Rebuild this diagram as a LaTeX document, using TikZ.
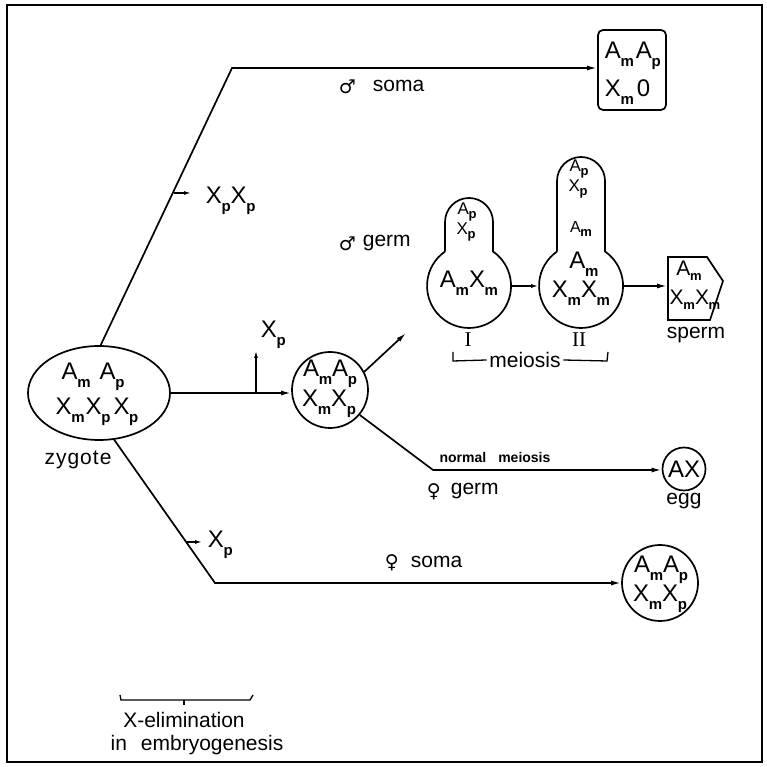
\documentclass[tikz,border=0pt]{standalone}
\usepackage{fontspec}
\setmainfont{Liberation Sans}
\newfontfamily\symfont{DejaVu Sans}
\newfontfamily\romfont{Liberation Serif}
\usetikzlibrary{arrows.meta,shapes.geometric}
\newcommand{\gs}[2]{#1\kern-0.3pt\raisebox{-0.6ex}{\fontsize{15}{15}\selectfont\bfseries #2}}
\newcommand{\gss}[2]{#1\kern-0.3pt\raisebox{-0.5ex}{\fontsize{13}{13}\selectfont\bfseries #2}}
\newcommand{\gsp}[2]{#1\kern-0.3pt\raisebox{-0.5ex}{\fontsize{13}{13}\selectfont\bfseries #2}}
\begin{document}
\begin{tikzpicture}[x=1pt,y=1pt,line width=1.7pt,
  arr/.style={-{Latex[length=10pt,width=5pt]}},
  sarr/.style={-{Latex[length=7pt,width=4pt]}, line width=1.3pt},
  lbl/.style={font=\fontsize{21}{23}\selectfont, inner sep=0pt},
  chr/.style={font=\fontsize{24}{26}\selectfont, inner sep=0pt},
  spc/.style={font=\fontsize{21}{23}\selectfont, inner sep=0pt},
  nk/.style={font=\fontsize{17}{18}\selectfont, inner sep=0pt},
  sym/.style={font=\fontsize{19}{20}\selectfont\symfont, inner sep=0pt},
  rom/.style={font=\fontsize{21}{21}\selectfont\romfont, inner sep=0pt},
  cell/.style={draw, circle, inner sep=0pt}]
\useasboundingbox (0,0) rectangle (766,767);
\draw[line width=2.6pt] (7,5) rectangle (762,762);

% zygote
\node[draw, ellipse, minimum width=142pt, minimum height=94pt, inner sep=0pt] (zyg) at (99,374) {};
\node[chr] (zA) at (93,390) {\gs{A}{m}\hspace{9pt}\gs{A}{p}};
\node[chr] (zX) at (97,355) {\gs{X}{m}\hspace{1pt}\gs{X}{p}\hspace{3pt}\gs{X}{p}};
\node[lbl] (zlab) at (78,307) {z\kern1pt y\kern1pt g\kern1pt o\kern1pt t\kern1pt e};

% male soma branch
\coordinate (u1) at (232,699);
\node[draw, rounded corners=5pt, minimum width=68pt, minimum height=80pt, inner sep=0pt] (msoma) at (632,697) {};
\node[chr, anchor=west] (msA) at (604,711) {\gs{A}{m}\hspace{2pt}\gs{A}{p}};
\node[chr, anchor=west] (msX) at (604,675) {\gs{X}{m}\hspace{3pt}0};
\draw[arr] (zyg.88) -- (u1) -- (u1 -| msoma.west);
\node[sym, anchor=west] (msym) at (338,680) {♂};
\node[lbl, anchor=west] (mslab) at (372,681) {soma};
\coordinate (b1) at (173.5,574);
\coordinate (b1e) at (191,574);
\draw[sarr] (b1) -- (b1e);
\node[chr, anchor=west] (xpxp) at (205,566) {\gs{X}{p}\gs{X}{p}};

% middle
\node[cell, minimum size=76pt] (mid) at (330,377) {};
\node[chr] (midA) at (330,393) {\gs{A}{m}\gs{A}{p}};
\node[chr] (midX) at (329,363) {\gs{X}{m}\gs{X}{p}};
\draw[arr] (zyg.east) -- (zyg.east -| mid.west);
\coordinate (b2) at (256,375);
\coordinate (b2e) at (256,416);
\draw[sarr] (b2) -- (b2e);
\node[chr, anchor=west] (xp1) at (260,432) {\gs{X}{p}};

% male germ
\coordinate (g1) at (406,434);
\draw[arr] (mid.28) -- (g1);
\node[sym, anchor=west] (mgsym) at (338,523) {♂};
\node[lbl, anchor=west] (mglab) at (362,524) {germ};

% bulb I
\node[circle, minimum size=84pt, inner sep=0pt] (bI) at (469,481) {};
\draw (445,515.5) -- (445,545) arc[start angle=180,end angle=0,radius=24] -- (493,515.5)
  arc[start angle=55.2,end angle=-235.2,radius=42];
\node[nk] (bIAp) at (467,555) {\gss{A}{p}};
\node[nk] (bIXp) at (466,535) {\gss{X}{p}};
\node[chr] (bIAX) at (469,484) {\gs{A}{m}\gs{X}{m}};
\node[rom] (rI) at (468,427) {I};

% bulb II
\node[circle, minimum size=84pt, inner sep=0pt] (bII) at (581,481) {};
\draw (557,515.5) -- (557,586) arc[start angle=180,end angle=0,radius=24] -- (605,515.5)
  arc[start angle=55.2,end angle=-235.2,radius=42];
\node[nk] (bIIAp) at (579,598) {\gss{A}{p}};
\node[nk] (bIIXp) at (578,578) {\gss{X}{p}};
\node[font=\fontsize{16}{17}\selectfont, inner sep=0pt] (bIIAm) at (581,538) {\gss{A}{m}};
\node[chr] (bIIA) at (584,503) {\gs{A}{m}};
\node[chr] (bIIX) at (581,474) {\gs{X}{m}\gs{X}{m}};
\node[rom] (rII) at (579,427) {II};
\draw[sarr] (bI.east) -- (bII.west);

% meiosis bracket
\node[lbl] (meio) at (525,407) {meiosis};
\draw[line width=1.3pt] (453,415) -- (453,406) -- ([xshift=-2pt]meio.west);
\draw[line width=1.3pt] ([xshift=2pt]meio.east) -- (607,406) -- (608,415);

% sperm
\node[minimum width=54pt, minimum height=63pt, inner sep=0pt] (sperm) at (695,478.5) {};
\draw (668,510) -- (707,510) -- (723,486) -- (710,447) -- (668,447) -- cycle;
\node[spc] (spA) at (689,496) {\gsp{A}{m}};
\node[spc] (spX) at (695,467) {\gsp{X}{m}\gsp{X}{m}};
\node[lbl] (splab) at (696,432) {sperm};
\draw[arr] (bII.east) -- (bII.east -| sperm.west);

% female germ
\node[cell, minimum size=43pt] (egg) at (684,298) {};
\node[chr] (eggt) at (684,298) {AX};
\node[lbl] (egglab) at (684,266) {egg};
\coordinate (l1) at (433,297);
\draw[arr] (mid.-40) -- (l1) -- (l1 -| egg.west);
\node[font=\fontsize{14}{15}\selectfont\bfseries, inner sep=0pt] (nm) at (495,309) {normal\hspace{12pt}meiosis};
\node[sym, anchor=west] (fgsym) at (426,275) {♀};
\node[lbl, anchor=west] (fglab) at (450,276) {germ};

% female soma
\node[cell, minimum size=76pt] (fsoma) at (660,184) {};
\node[chr] (fsA) at (661,197) {\gs{A}{m}\gs{A}{p}};
\node[chr] (fsX) at (660,168) {\gs{X}{m}\gs{X}{p}};
\coordinate (d1) at (215,184);
\draw[arr] (zyg.-72) -- (d1) -- (fsoma.west);
\node[sym, anchor=west] (fssym) at (384,204) {♀};
\node[lbl, anchor=west] (fslab) at (410,205) {soma};
\coordinate (b3) at (187,225);
\coordinate (b3e) at (202,225);
\draw[sarr] (b3) -- (b3e);
\node[chr, anchor=west] (xp2) at (207,222) {\gs{X}{p}};

% X-elimination bracket
\draw[line width=1.3pt] (120,72) -- (121,67) -- (250,67) -- (253,72);
\draw[line width=1.3pt] (184,67) -- (184,62);
\node[lbl] (xel) at (184,47) {X-elimination};
\node[lbl] (emb) at (197,22) {in\hspace{14pt}embryogenesis};
\end{tikzpicture}
\end{document}
